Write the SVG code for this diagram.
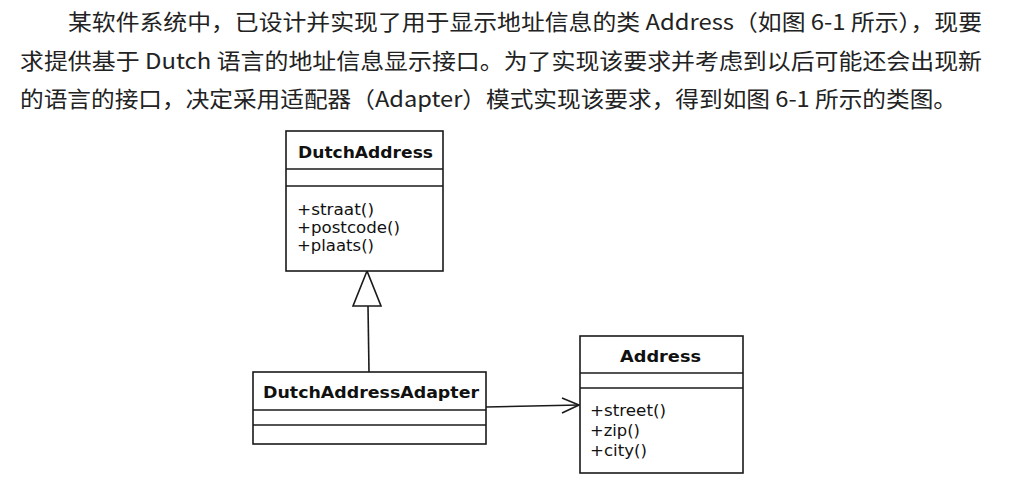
<svg xmlns="http://www.w3.org/2000/svg" width="1021" height="496" viewBox="0 0 1021 496">
<style>
.para{font-family:"Noto Sans CJK SC","Noto Sans",sans-serif;font-size:22px;fill:#222}
.box{fill:#fff;stroke:#1a1a1a;stroke-width:1.6}
.sep{stroke:#1a1a1a;stroke-width:1.6}
.title{font-family:"DejaVu Sans","Liberation Sans",sans-serif;font-weight:bold;font-size:16px;fill:#111}
.op{font-family:"DejaVu Sans","Liberation Sans",sans-serif;font-size:16.5px;fill:#111}
.conn{fill:none;stroke:#1a1a1a;stroke-width:1.6}
</style>
<rect width="1021" height="496" fill="#fff"/>
<g id="paragraph">
<text class="para" x="68" y="30" textLength="914" lengthAdjust="spacingAndGlyphs">某软件系统中，已设计并实现了用于显示地址信息的类 Address（如图 6-1 所示），现要</text>
<text class="para" x="20" y="69" textLength="962" lengthAdjust="spacingAndGlyphs">求提供基于 Dutch 语言的地址信息显示接口。为了实现该要求并考虑到以后可能还会出现新</text>
<text class="para" x="20" y="107" textLength="937" lengthAdjust="spacingAndGlyphs">的语言的接口，决定采用适配器（Adapter）模式实现该要求，得到如图 6-1 所示的类图。</text>
</g>
<g id="connectors">
<line class="conn" x1="368" y1="306" x2="369" y2="372"/>
<polygon class="conn" points="367,271 353,306 381,306" fill="#fff"/>
<line class="conn" x1="486" y1="407" x2="579" y2="405"/>
<polyline class="conn" points="562,398 579,405 562,413"/>
</g>
<g id="DutchAddress">
<rect class="box" x="286" y="131" width="157" height="140"/>
<line class="sep" x1="286" y1="169" x2="443" y2="169"/>
<line class="sep" x1="286" y1="186" x2="443" y2="186"/>
<text class="title" x="298" y="158" textLength="135" lengthAdjust="spacingAndGlyphs">DutchAddress</text>
<text class="op" x="297" y="215" textLength="77" lengthAdjust="spacingAndGlyphs">+straat()</text>
<text class="op" x="297" y="233" textLength="103" lengthAdjust="spacingAndGlyphs">+postcode()</text>
<text class="op" x="297" y="251" textLength="77" lengthAdjust="spacingAndGlyphs">+plaats()</text>
</g>
<g id="DutchAddressAdapter">
<rect class="box" x="253" y="372" width="233" height="72"/>
<line class="sep" x1="253" y1="410" x2="486" y2="410"/>
<line class="sep" x1="253" y1="425" x2="486" y2="425"/>
<text class="title" x="263" y="398" textLength="216" lengthAdjust="spacingAndGlyphs">DutchAddressAdapter</text>
</g>
<g id="Address">
<rect class="box" x="580" y="336" width="163" height="137"/>
<line class="sep" x1="580" y1="373" x2="743" y2="373"/>
<line class="sep" x1="580" y1="388" x2="743" y2="388"/>
<text class="title" x="620" y="362" textLength="81" lengthAdjust="spacingAndGlyphs">Address</text>
<text class="op" x="590" y="416" textLength="76" lengthAdjust="spacingAndGlyphs">+street()</text>
<text class="op" x="590" y="436" textLength="50" lengthAdjust="spacingAndGlyphs">+zip()</text>
<text class="op" x="590" y="456" textLength="57" lengthAdjust="spacingAndGlyphs">+city()</text>
</g>
</svg>
